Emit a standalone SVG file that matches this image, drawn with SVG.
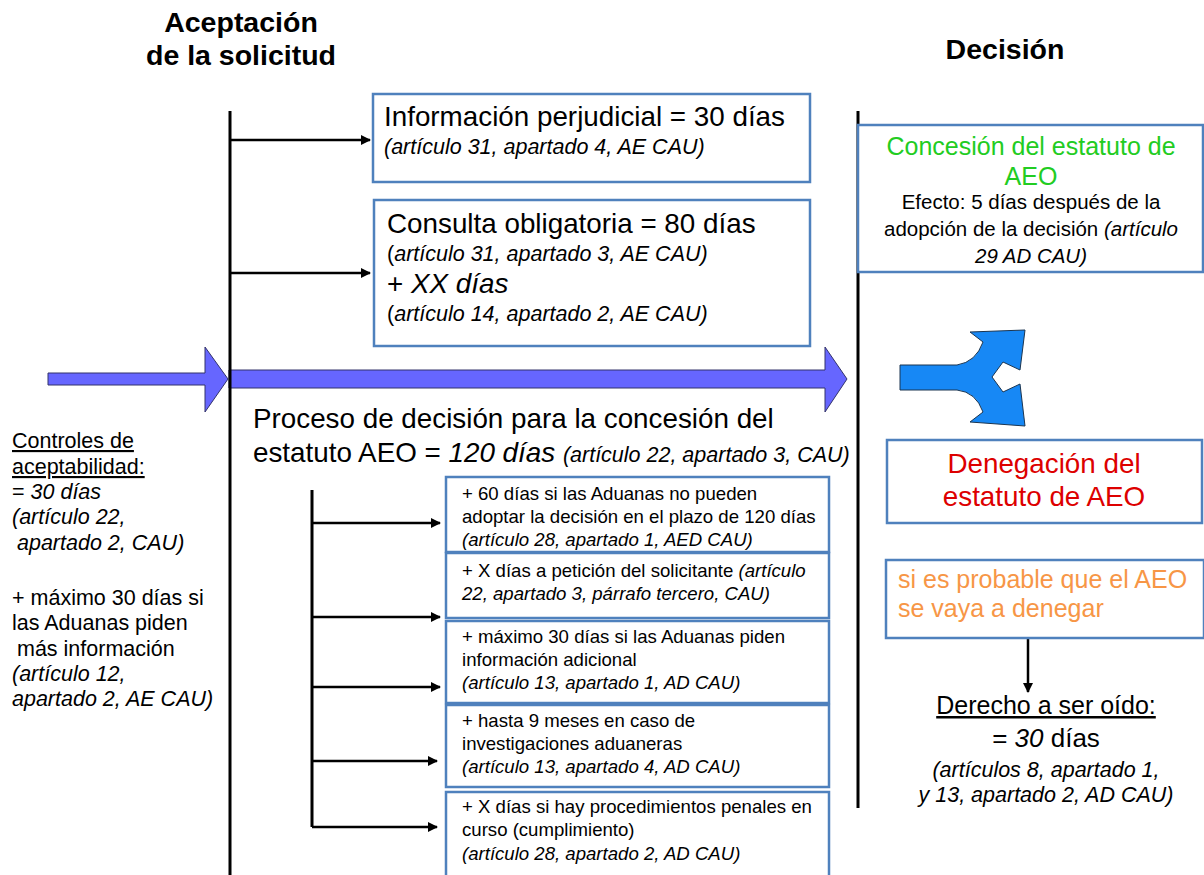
<svg xmlns="http://www.w3.org/2000/svg" width="1204" height="875" viewBox="0 0 1204 875">
<style>
text{font-family:"Liberation Sans",Arial,sans-serif;fill:#000}
.b{font-weight:bold;font-size:28.5px}
.l{font-size:27.8px}
.m{font-size:25px}
.s{font-size:21.5px}
.e{font-size:20.5px}
.x{font-size:18.6px}
.t{font-size:21.5px}
.i{font-style:italic}
.box{fill:#fff;stroke:#4F81BD;stroke-width:2.5}
.ln{stroke:#000;stroke-width:3;fill:none}
.br{stroke:#000;stroke-width:2.5;fill:none;marker-end:url(#ah)}
.u{text-decoration:underline}
</style>
<defs>
<marker id="ah" viewBox="0 0 10 10" refX="9" refY="5" markerWidth="4" markerHeight="4" markerUnits="strokeWidth" orient="auto">
<path d="M0 0 L10 5 L0 10 Z" fill="#000"/>
</marker>
</defs>

<g id="titles">
<text class="b" x="241" y="32" text-anchor="middle">Aceptación</text>
<text class="b" x="241" y="65" text-anchor="middle">de la solicitud</text>
<text class="b" x="1005" y="59" text-anchor="middle">Decisión</text>
</g>

<g id="timeline">
<path d="M48 373 L205 373 L205 347 L228 379 L205 412 L205 385 L48 385 Z" fill="#6666FF" stroke="#33336B" stroke-width="1"/>
<path d="M229 370 L825 370 L825 347 L847 379 L825 412 L825 388 L229 388 Z" fill="#6666FF" stroke="#33336B" stroke-width="1"/>
</g>

<g id="connectors">
<line class="ln" x1="230" y1="111" x2="230" y2="875"/>
<line class="ln" x1="858" y1="111" x2="858" y2="808"/>
<line class="br" x1="230" y1="140" x2="370" y2="140"/>
<line class="br" x1="230" y1="273" x2="370" y2="273"/>
<line class="ln" x1="312" y1="490" x2="312" y2="827" stroke-width="2.5"/>
<line class="br" x1="312" y1="523" x2="440" y2="523"/>
<line class="br" x1="312" y1="617" x2="440" y2="617"/>
<line class="br" x1="312" y1="687" x2="440" y2="687"/>
<line class="br" x1="312" y1="761" x2="437" y2="761"/>
<line class="br" x1="312" y1="827" x2="437" y2="827"/>
<line class="br" x1="1028" y1="638" x2="1028" y2="692"/>
</g>

<g id="info-perjudicial">
<rect class="box" x="373" y="94" width="437" height="88"/>
<text class="l" x="384" y="126">Información perjudicial = 30 días</text>
<text class="s i" x="384" y="154">(artículo 31, apartado 4, AE CAU)</text>
</g>

<g id="consulta">
<rect class="box" x="374" y="200" width="436" height="146"/>
<text class="l" x="387" y="233">Consulta obligatoria = 80 días</text>
<text class="s" x="387" y="261">(<tspan class="i">artículo 31, apartado 3, AE CAU)</tspan></text>
<text class="l" x="387" y="293">+ <tspan class="i">XX días</tspan></text>
<text class="s" x="387" y="321">(<tspan class="i">artículo 14, apartado 2, AE CAU)</tspan></text>
</g>

<g id="concesion">
<rect class="box" x="858" y="125" width="345" height="147"/>
<text class="m" x="1031" y="155" text-anchor="middle" style="fill:#22CC22">Concesión del estatuto de</text>
<text class="m" x="1031" y="185" text-anchor="middle" style="fill:#22CC22">AEO</text>
<text class="e" x="1031" y="209" text-anchor="middle">Efecto: 5 días después de la</text>
<text class="e" x="1031" y="236" text-anchor="middle">adopción de la decisión <tspan class="i">(artículo</tspan></text>
<text class="e i" x="1031" y="263" text-anchor="middle">29 AD CAU)</text>
</g>

<g id="fork">
<path d="M900 365 L957 365 Q976 362 983 342 L970 332 L1025 330 L1020 370 L1003 362 L992 377 L1003 392 L1020 384 L1025 426 L970 422 L983 412 Q976 392 957 390 L900 390 Z" fill="#1788F5" stroke="#1B3550" stroke-width="1"/>
</g>

<g id="proceso">
<text class="l" x="253" y="428">Proceso de decisión para la concesión del</text>
<text class="l" x="253" y="462">estatuto AEO = <tspan class="i">120 días</tspan> <tspan class="s i">(artículo 22, apartado 3, CAU)</tspan></text>
</g>

<g id="controles">
<text class="t u" x="12" y="448">Controles de </text>
<text class="t u" x="12" y="474">aceptabilidad:</text>
<text class="t" x="12" y="499">= <tspan class="i">30 días</tspan></text>
<text class="t i" x="12" y="524">(artículo 22,</text>
<text class="t i" x="17" y="550">apartado 2, CAU)</text>
<text class="t" x="12" y="605">+ máximo 30 días si</text>
<text class="t" x="12" y="630">las Aduanas piden</text>
<text class="t" x="17" y="656">más información</text>
<text class="t i" x="12" y="681">(artículo 12,</text>
<text class="t i" x="12" y="706">apartado 2, AE CAU)</text>
</g>

<g id="denegacion">
<rect class="box" x="887" y="440" width="315" height="83"/>
<text class="l" x="1044" y="473" text-anchor="middle" style="fill:#DD0000">Denegación del</text>
<text class="l" x="1044" y="506" text-anchor="middle" style="fill:#DD0000">estatuto de AEO</text>
</g>

<g id="probable">
<rect class="box" x="886" y="560" width="318" height="78"/>
<text class="m" x="898" y="588" style="fill:#F79646">si es probable que el AEO</text>
<text class="m" x="898" y="617" style="fill:#F79646">se vaya a denegar</text>
</g>

<g id="derecho">
<text class="m u" x="1046" y="714" text-anchor="middle">Derecho a ser oído:</text>
<text class="l" x="1046" y="747" text-anchor="middle" style="font-size:26px">= <tspan class="i">30</tspan> días</text>
<text class="s i" x="1046" y="777" text-anchor="middle">(artículos 8, apartado 1,</text>
<text class="s i" x="1046" y="802" text-anchor="middle">y 13, apartado 2, AD CAU)</text>
</g>

<g id="ext-60">
<rect class="box" x="446" y="477" width="383" height="75"/>
<text class="x" x="462" y="500">+ 60 días si las Aduanas no pueden</text>
<text class="x" x="462" y="523">adoptar la decisión en el plazo de 120 días</text>
<text class="x i" x="462" y="546">(artículo 28, apartado 1, AED CAU)</text>
</g>

<g id="ext-solicitante">
<rect class="box" x="446" y="553" width="383" height="65"/>
<text class="x" x="462" y="577">+ X días a petición del solicitante <tspan class="i">(artículo</tspan></text>
<text class="x i" x="462" y="600">22, apartado 3, párrafo tercero, CAU)</text>
</g>

<g id="ext-info">
<rect class="box" x="446" y="621" width="383" height="82"/>
<text class="x" x="462" y="643">+ máximo 30 días si las Aduanas piden</text>
<text class="x" x="462" y="666">información adicional</text>
<text class="x i" x="462" y="689">(artículo 13, apartado 1, AD CAU)</text>
</g>

<g id="ext-investigaciones">
<rect class="box" x="446" y="705" width="383" height="82"/>
<text class="x" x="462" y="727">+ hasta 9 meses en caso de</text>
<text class="x" x="462" y="750">investigaciones aduaneras</text>
<text class="x i" x="462" y="773">(artículo 13, apartado 4, AD CAU)</text>
</g>

<g id="ext-penales">
<rect class="box" x="446" y="792" width="383" height="90"/>
<text class="x" x="462" y="813">+ X días si hay procedimientos penales en</text>
<text class="x" x="462" y="836">curso (cumplimiento)</text>
<text class="x i" x="462" y="860">(artículo 28, apartado 2, AD CAU)</text>
</g>
</svg>
